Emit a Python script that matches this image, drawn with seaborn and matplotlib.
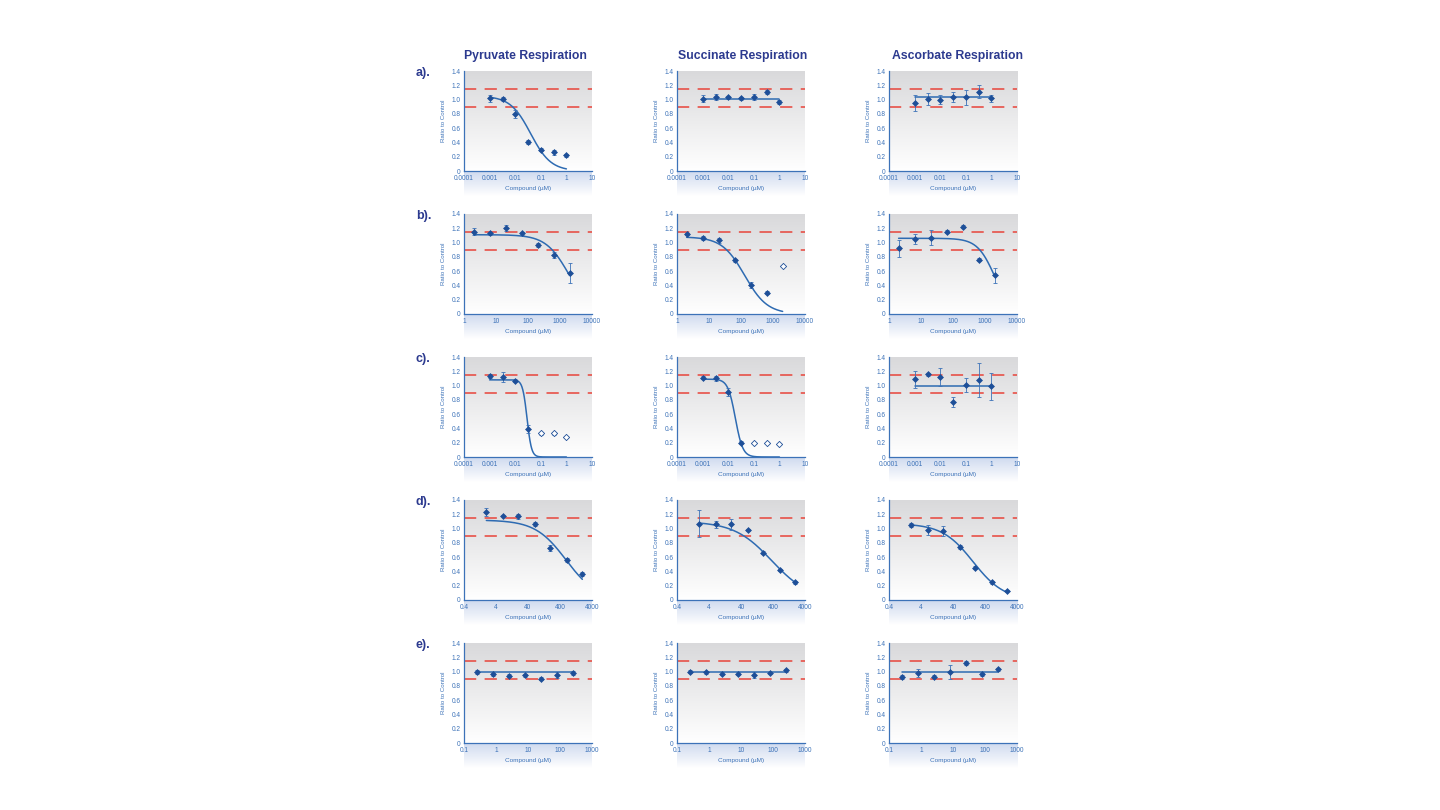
import numpy as np
import pandas as pd
import matplotlib
matplotlib.use("Agg")
import matplotlib.pyplot as plt
import seaborn as sns
from matplotlib.colors import LinearSegmentedColormap
from matplotlib.ticker import FixedLocator, NullLocator

sns.set_theme(style="white")
plt.rcParams["font.family"] = ["Liberation Sans", "DejaVu Sans"]

# ---------------- data ----------------
substrates = ["Pyruvate Respiration", "Succinate Respiration", "Ascorbate Respiration"]
row_labels = ["a).", "b).", "c).", "d).", "e)."]

conc_a = [0.001, 0.0033, 0.01, 0.033, 0.1, 0.33, 1]
conc_b = [2, 6.7, 20, 67, 200, 667, 2000]
conc_c = [0.001, 0.0033, 0.01, 0.033, 0.1, 0.33, 1]
conc_d = [2, 6.7, 20, 67, 200, 667, 2000]
conc_e = [0.25, 0.8, 2.5, 8, 25, 80, 250]

xticks_a = [0.0001, 0.001, 0.01, 0.1, 1, 10]
xticklabels_a = ["0.0001", "0.001", "0.01", "0.1", "1", "10"]
xticks_b = [1, 10, 100, 1000, 10000]
xticklabels_b = ["1", "10", "100", "1000", "10000"]
xticks_d = [0.4, 4, 40, 400, 4000]
xticklabels_d = ["0.4", "4", "40", "400", "4000"]
xticks_e = [0.1, 1, 10, 100, 1000]
xticklabels_e = ["0.1", "1", "10", "100", "1000"]

# row a
ratio_a_pyr = [1.02, 1.01, 0.80, 0.41, 0.30, 0.26, 0.22]
err_a_pyr = [0.05, 0.03, 0.06, 0.03, 0.02, 0.03, 0.02]
ratio_a_suc = [1.01, 1.04, 1.03, 1.02, 1.04, 1.11, 0.97]
err_a_suc = [0.05, 0.04, 0.02, 0.02, 0.04, 0.03, 0.03]
ratio_a_asc = [0.95, 1.01, 1.00, 1.04, 1.03, 1.11, 1.02]
err_a_asc = [0.11, 0.08, 0.06, 0.07, 0.11, 0.09, 0.05]
# row b
ratio_b_pyr = [1.15, 1.13, 1.20, 1.13, 0.97, 0.83, 0.58]
err_b_pyr = [0.05, 0.02, 0.04, 0.02, 0.03, 0.04, 0.14]
ratio_b_suc = [1.12, 1.06, 1.03, 0.75, 0.41, 0.30, 0.67]
err_b_suc = [0.02, 0.03, 0.04, 0.02, 0.04, 0.02, 0.0]
ratio_b_asc = [0.92, 1.05, 1.07, 1.15, 1.22, 0.76, 0.54]
err_b_asc = [0.12, 0.07, 0.10, 0.02, 0.02, 0.02, 0.11]
# row c
ratio_c_pyr = [1.13, 1.12, 1.07, 0.39, 0.33, 0.33, 0.28]
err_c_pyr = [0.03, 0.07, 0.02, 0.06, 0.02, 0.02, 0.02]
ratio_c_suc = [1.11, 1.10, 0.91, 0.20, 0.20, 0.20, 0.18]
err_c_suc = [0.02, 0.03, 0.05, 0.02, 0.0, 0.0, 0.0]
ratio_c_asc = [1.09, 1.16, 1.12, 0.77, 1.01, 1.08, 0.99]
err_c_asc = [0.12, 0.02, 0.13, 0.07, 0.10, 0.24, 0.19]
# row d
ratio_d_pyr = [1.23, 1.18, 1.17, 1.06, 0.73, 0.56, 0.36]
err_d_pyr = [0.06, 0.01, 0.04, 0.03, 0.04, 0.03, 0.03]
ratio_d_suc = [1.07, 1.06, 1.06, 0.98, 0.66, 0.42, 0.25]
err_d_suc = [0.19, 0.05, 0.08, 0.02, 0.02, 0.02, 0.02]
ratio_d_asc = [1.05, 0.98, 0.96, 0.74, 0.45, 0.25, 0.13]
err_d_asc = [0.03, 0.07, 0.07, 0.03, 0.02, 0.02, 0.01]
# row e
ratio_e_pyr = [0.99, 0.96, 0.94, 0.95, 0.90, 0.95, 0.98]
err_e_pyr = [0.03, 0.02, 0.02, 0.02, 0.02, 0.04, 0.03]
ratio_e_suc = [1.00, 0.99, 0.97, 0.97, 0.95, 0.98, 1.02]
err_e_suc = [0.02, 0.02, 0.02, 0.02, 0.04, 0.02, 0.02]
ratio_e_asc = [0.92, 0.98, 0.93, 0.99, 1.12, 0.96, 1.03]
err_e_asc = [0.03, 0.06, 0.02, 0.10, 0.03, 0.02, 0.02]

# excluded (open) points per panel: index list
open_b_suc = [6]
open_c_pyr = [4, 5, 6]
open_c_suc = [4, 5, 6]

# dose-response fits: (top, bottom, IC50, hill)
fit_a_pyr = (1.05, 0.0, 0.04, 1.1)
fit_a_suc = (1.01, 1.01, 1.0, 1.0)
fit_a_asc = (1.03, 1.03, 1.0, 1.0)
fit_b_pyr = (1.11, 0.0, 1900, 1.2)
fit_b_suc = (1.08, 0.0, 130, 1.23)
fit_b_asc = (1.06, 0.0, 2000, 1.6)
fit_c_pyr = (1.08, 0.0, 0.029, 5.0)
fit_c_suc = (1.09, 0.0, 0.019, 3.0)
fit_c_asc = (1.00, 1.00, 1.0, 1.0)
fit_d_pyr = (1.12, 0.0, 620, 0.9)
fit_d_suc = (1.10, 0.0, 366, 0.74)
fit_d_asc = (1.07, 0.0, 170, 0.9)
fit_e_pyr = (1.00, 1.00, 1.0, 1.0)
fit_e_suc = (1.00, 1.00, 1.0, 1.0)
fit_e_asc = (1.00, 1.00, 1.0, 1.0)

limit_upper = 1.15
limit_lower = 0.90

rows = [
    dict(conc=conc_a, xlim=(0.0001, 10), ticks=xticks_a, labels=xticklabels_a,
         panels=[(ratio_a_pyr, err_a_pyr, [], fit_a_pyr),
                 (ratio_a_suc, err_a_suc, [], fit_a_suc),
                 (ratio_a_asc, err_a_asc, [], fit_a_asc)]),
    dict(conc=conc_b, xlim=(1, 10000), ticks=xticks_b, labels=xticklabels_b,
         panels=[(ratio_b_pyr, err_b_pyr, [], fit_b_pyr),
                 (ratio_b_suc, err_b_suc, open_b_suc, fit_b_suc),
                 (ratio_b_asc, err_b_asc, [], fit_b_asc)]),
    dict(conc=conc_c, xlim=(0.0001, 10), ticks=xticks_a, labels=xticklabels_a,
         panels=[(ratio_c_pyr, err_c_pyr, open_c_pyr, fit_c_pyr),
                 (ratio_c_suc, err_c_suc, open_c_suc, fit_c_suc),
                 (ratio_c_asc, err_c_asc, [], fit_c_asc)]),
    dict(conc=conc_d, xlim=(0.4, 4000), ticks=xticks_d, labels=xticklabels_d,
         panels=[(ratio_d_pyr, err_d_pyr, [], fit_d_pyr),
                 (ratio_d_suc, err_d_suc, [], fit_d_suc),
                 (ratio_d_asc, err_d_asc, [], fit_d_asc)]),
    dict(conc=conc_e, xlim=(0.1, 1000), ticks=xticks_e, labels=xticklabels_e,
         panels=[(ratio_e_pyr, err_e_pyr, [], fit_e_pyr),
                 (ratio_e_suc, err_e_suc, [], fit_e_suc),
                 (ratio_e_asc, err_e_asc, [], fit_e_asc)]),
]

# ---------------- style ----------------
NAVY = "#2c3a8f"
BLUE = "#3c72b8"
MARK = "#1e4f98"
CURVE = "#2e6bb2"
RED = "#e8443a"

W, H = 1440, 810
fig = plt.figure(figsize=(W / 100, H / 100), dpi=100)
fig.patch.set_facecolor("white")

col_left = [464, 677, 889]
title_cx = [525, 743, 957]
row_top = [71, 214, 357, 500, 643]
ax_w, ax_h = 128, 100
band_h = 25

grey_cmap = LinearSegmentedColormap.from_list("g", ["#ffffff", "#d9d9db"])
blue_cmap = LinearSegmentedColormap.from_list("b", ["#ffffff", "#cfdaef"])
grad = np.linspace(0, 1, 256).reshape(-1, 1)


def rect(left, top, w, h):
    return [left / W, (H - top - h) / H, w / W, h / H]


for r, row in enumerate(rows):
    for c, (ratio, err, open_idx, fit) in enumerate(row["panels"]):
        L, T = col_left[c], row_top[r]
        # background gradients
        bg = fig.add_axes(rect(L, T, ax_w, ax_h), zorder=0)
        bg.imshow(grad, aspect="auto", cmap=grey_cmap, origin="lower",
                  extent=[0, 1, 0, 1])
        bg.set_axis_off()
        band = fig.add_axes(rect(L, T + ax_h, ax_w, band_h), zorder=0)
        band.imshow(grad, aspect="auto", cmap=blue_cmap, origin="lower",
                    extent=[0, 1, 0, 1])
        band.set_axis_off()

        ax = fig.add_axes(rect(L, T, ax_w, ax_h), zorder=2)
        ax.set_facecolor("none")
        ax.set_xscale("log")

        conc = np.array(row["conc"], dtype=float)
        df = pd.DataFrame({"conc": conc, "ratio": ratio, "err": err})
        df["excluded"] = [i in open_idx for i in range(len(df))]

        # limit lines
        for lvl in (limit_upper, limit_lower):
            ax.axhline(lvl, color=RED, lw=1.1, dashes=(8, 5.5), zorder=1)

        # fitted curve
        top, bottom, ic50, hill = fit
        xs = np.logspace(np.log10(conc.min()), np.log10(conc.max()), 300)
        curve = pd.DataFrame({"conc": xs,
                              "fit": bottom + (top - bottom) / (1 + (xs / ic50) ** hill)})
        sns.lineplot(data=curve, x="conc", y="fit", ax=ax, color=CURVE,
                     lw=1.1, zorder=3)

        # error bars
        d_err = df[df["err"] > 0]
        ax.errorbar(d_err["conc"], d_err["ratio"], yerr=d_err["err"], fmt="none",
                    ecolor=BLUE, elinewidth=0.6, capsize=1.6, capthick=0.6, zorder=4)
        # points
        inc = df[~df["excluded"]]
        exc = df[df["excluded"]]
        sns.scatterplot(data=inc, x="conc", y="ratio", ax=ax, marker="D", s=9,
                        color=MARK, edgecolor=MARK, linewidth=0.5, zorder=5)
        if len(exc):
            sns.scatterplot(data=exc, x="conc", y="ratio", ax=ax, marker="D", s=10,
                            facecolor="white", edgecolor=MARK, linewidth=0.6, zorder=5)

        ax.set_xlim(*row["xlim"])
        ax.set_ylim(0, 1.4)
        ax.xaxis.set_major_locator(FixedLocator(row["ticks"]))
        ax.set_xticklabels(row["labels"])
        ax.xaxis.set_minor_locator(NullLocator())
        ax.set_yticks([0, 0.2, 0.4, 0.6, 0.8, 1.0, 1.2, 1.4])
        ax.set_yticklabels(["0", "0.2", "0.4", "0.6", "0.8", "1.0", "1.2", "1.4"])
        ax.tick_params(axis="both", which="major", direction="out", length=2,
                       width=0.6, colors=BLUE, labelsize=4.7, pad=0.6)
        for s in ("top", "right"):
            ax.spines[s].set_visible(False)
        for s in ("left", "bottom"):
            ax.spines[s].set_color(BLUE)
            ax.spines[s].set_linewidth(0.9)
        ax.set_xlabel("Compound (µM)", fontsize=4.6, color=BLUE, labelpad=3)
        ax.set_ylabel("Ratio to Control", fontsize=4.4, color=BLUE, labelpad=4)
        ax.grid(False)

        if r == 0:
            fig.text(title_cx[c] / W, (H - 56) / H, substrates[c],
                     ha="center", va="center", fontsize=8.8, fontweight="bold",
                     color=NAVY)
        if c == 0:
            fig.text(416 / W, (H - T - 2) / H, row_labels[r], ha="left",
                     va="center", fontsize=9, fontweight="bold", color=NAVY)

fig.savefig("out.png", dpi=100, facecolor="white")
